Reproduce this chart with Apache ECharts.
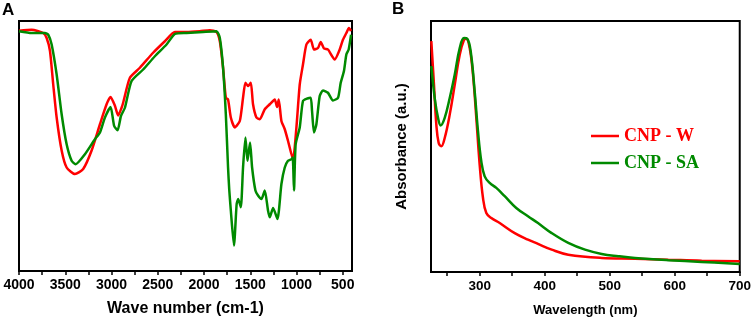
<!DOCTYPE html>
<html>
<head>
<meta charset="utf-8">
<script src="https://cdn.jsdelivr.net/npm/echarts@6.0.0/dist/echarts.min.js"></script>
<style>
  html, body { margin: 0; padding: 0; background: #fff; }
  #main { width: 754px; height: 322px; }
</style>
</head>
<body>
<div id="main"></div>
<script>
// --- A: FTIR (transmittance, arbitrary units) ---
const ftirWaveW = [4000, 3863, 3738, 3701, 3665, 3630, 3593, 3539, 3485, 3395, 3306, 3215, 3125, 3053, 3010, 2963, 2928, 2891, 2874, 2801, 2693, 2550, 2423, 2315, 2189, 2045, 1937, 1865, 1829, 1794, 1764, 1740, 1710, 1667, 1613, 1578, 1552, 1524, 1494, 1470, 1433, 1397, 1343, 1289, 1235, 1210, 1192, 1163, 1127, 1092, 1038, 1001, 965, 930, 893, 846, 811, 768, 738, 703, 660, 587, 533, 498, 461, 433, 410];
const ftirCnpW = [96.1, 96.5, 95.2, 93.2, 88.0, 74.6, 61.4, 48.2, 41.4, 38.8, 40.8, 48.2, 58.7, 66.7, 69.6, 66.1, 62.2, 65.3, 67.3, 77.3, 81.3, 87.3, 91.9, 95.6, 95.6, 95.9, 96.3, 95.6, 91.9, 81.3, 69.3, 68.6, 61.4, 57.4, 60.0, 69.3, 75.3, 74.0, 75.3, 66.7, 61.4, 60.7, 64.7, 66.7, 68.6, 65.6, 68.6, 60.0, 56.7, 52.1, 44.7, 57.4, 74.6, 82.6, 90.6, 92.5, 88.6, 89.2, 91.6, 89.0, 88.6, 84.6, 88.6, 92.5, 95.2, 97.2, 96.0];

const ftirWaveSA = [4000, 3863, 3719, 3684, 3647, 3593, 3539, 3485, 3431, 3388, 3287, 3179, 3125, 3071, 3010, 2971, 2934, 2898, 2855, 2783, 2658, 2531, 2405, 2315, 2189, 2010, 1865, 1829, 1794, 1764, 1740, 1727, 1710, 1676, 1647, 1630, 1602, 1578, 1552, 1530, 1502, 1480, 1444, 1416, 1379, 1343, 1308, 1289, 1253, 1206, 1163, 1127, 1092, 1055, 1041, 1027, 1009, 965, 930, 882, 846, 832, 811, 785, 749, 714, 660, 606, 551, 522, 487, 461, 436, 410];
const ftirCnpSA = [95.9, 95.2, 95.2, 94.5, 90.6, 78.6, 62.7, 50.7, 44.1, 42.7, 46.7, 52.7, 55.4, 61.4, 65.6, 58.0, 56.3, 62.0, 65.3, 76.0, 80.6, 85.9, 90.6, 94.8, 95.2, 95.6, 95.9, 93.2, 81.3, 62.7, 41.4, 32.5, 24.2, 10.2, 26.8, 28.8, 25.5, 41.4, 53.4, 44.1, 51.4, 41.4, 32.2, 30.2, 28.8, 32.2, 24.2, 21.5, 25.2, 20.8, 34.8, 41.4, 44.1, 44.7, 45.4, 32.2, 50.7, 57.4, 68.0, 69.0, 69.3, 64.0, 55.4, 58.7, 70.0, 72.2, 71.3, 68.2, 69.3, 75.3, 80.0, 86.6, 88.6, 94.5];

const ftirLabels = [4000, 3500, 3000, 2500, 2000, 1500, 1000, 500];
const ftirTicks = [4000, 3750, 3500, 3250, 3000, 2750, 2500, 2250, 2000, 1750, 1500, 1250, 1000, 750, 500];

// --- B: UV-Vis (absorbance, arbitrary units) ---
const uvWaveW = [225.5, 229.6, 233.2, 236.8, 240.8, 246.1, 253.8, 261.5, 269.2, 275.8, 279.3, 284.5, 289.6, 294.7, 299.9, 305, 310.1, 317.8, 330.7, 353.8, 374.2, 389.6, 410.7, 436.2, 487.6, 538.8, 590.1, 641.5, 700];
const uvCnpW = [92.0, 74.6, 58.7, 51.4, 50.1, 53.4, 62.7, 74.6, 86.6, 92.5, 92.9, 89.2, 78.6, 61.4, 42.7, 29.5, 23.5, 21.5, 19.5, 15.5, 12.9, 11.2, 8.9, 6.9, 5.6, 5.3, 4.9, 4.5, 4.3];

const uvWaveSA = [225.5, 230.7, 235.8, 239.9, 246.1, 253.8, 261.5, 269.2, 275.8, 280.8, 286.1, 292.2, 297.3, 302.4, 307.6, 315.3, 325.5, 338.4, 356.2, 374.2, 389.6, 410.7, 436.2, 461.9, 487.6, 513.2, 538.8, 590.1, 641.5, 700];
const uvCnpSA = [82.0, 69.3, 61.4, 58.4, 61.4, 69.3, 78.6, 89.2, 93.2, 92.9, 87.9, 72.0, 56.1, 44.1, 38.1, 35.5, 33.5, 30.2, 25.5, 22.2, 19.5, 15.5, 11.6, 8.9, 7.2, 6.3, 5.6, 4.7, 4.0, 3.2];

const uvLabels = [300, 400, 500, 600, 700];
const uvTicks = [250, 300, 350, 400, 450, 500, 550, 600, 650, 700];

const RED = '#ff0000';
const GREEN = '#008a00';
const SANS = 'Liberation Sans, Arial, sans-serif';

function zip(xs, ys) {
  return xs.map((x, i) => [x, ys[i]]);
}

const chart = echarts.init(document.getElementById('main'), null, { renderer: 'canvas' });

const axisBase = {
  type: 'value',
  axisLine: { show: true, onZero: false, lineStyle: { color: '#000', width: 2 } },
  splitLine: { show: false },
  nameLocation: 'middle',
  nameTextStyle: { color: '#000', fontFamily: SANS, fontWeight: 'bold' }
};

const option = {
  animation: false,
  backgroundColor: '#fff',
  title: [
    { text: 'A', left: 2, top: 2, padding: 0, textStyle: { fontFamily: SANS, fontWeight: 'bold', fontSize: 17, color: '#000' } },
    { text: 'B', left: 392, top: 1, padding: 0, textStyle: { fontFamily: SANS, fontWeight: 'bold', fontSize: 17, color: '#000' } }
  ],
  grid: [
    { left: 19, top: 21, width: 333, height: 251, show: true, borderColor: '#000', borderWidth: 2 },
    { left: 431, top: 21, width: 309, height: 251, show: true, borderColor: '#000', borderWidth: 2 }
  ],
  xAxis: [
    Object.assign({}, axisBase, {
      gridIndex: 0,
      min: 400,
      max: 4000,
      inverse: true,
      name: 'Wave number (cm-1)',
      nameGap: 30,
      nameTextStyle: { color: '#000', fontFamily: SANS, fontWeight: 'bold', fontSize: 16 },
      axisTick: { show: true, customValues: ftirTicks, length: 4, lineStyle: { color: '#000', width: 1.5 } },
      axisLabel: {
        customValues: ftirLabels, margin: 7, color: '#000', fontFamily: SANS, fontWeight: 'bold', fontSize: 14,
        formatter: v => String(v)
      }
    }),
    Object.assign({}, axisBase, {
      gridIndex: 1,
      min: 225,
      max: 700,
      name: 'Wavelength (nm)',
      nameGap: 32,
      nameTextStyle: { color: '#000', fontFamily: SANS, fontWeight: 'bold', fontSize: 13 },
      axisTick: { show: true, customValues: uvTicks, length: 4, lineStyle: { color: '#000', width: 1.5 } },
      axisLabel: {
        customValues: uvLabels, margin: 7, color: '#000', fontFamily: SANS, fontWeight: 'bold', fontSize: 13.5,
        formatter: v => String(v)
      }
    })
  ],
  yAxis: [
    { type: 'value', gridIndex: 0, min: 0, max: 100, show: false },
    Object.assign({}, axisBase, {
      gridIndex: 1,
      min: 0,
      max: 100,
      name: 'Absorbance (a.u.)',
      nameRotate: 90,
      nameGap: 22,
      nameTextStyle: { color: '#000', fontFamily: SANS, fontWeight: 'bold', fontSize: 15 },
      axisTick: { show: false },
      axisLabel: { show: false }
    })
  ],
  legend: {
    orient: 'vertical',
    left: 586,
    top: 122,
    itemWidth: 28,
    itemHeight: 2.5,
    itemGap: 9,
    icon: 'rect',
    textStyle: { fontFamily: 'Liberation Serif, Times New Roman, serif', fontWeight: 'bold', fontSize: 18, padding: [0, 0, 0, 0] },
    data: [
      { name: 'CNP - W', textStyle: { color: RED } },
      { name: 'CNP - SA', textStyle: { color: GREEN } }
    ]
  },
  series: [
    {
      name: 'CNP - W', type: 'line', xAxisIndex: 0, yAxisIndex: 0,
      data: zip(ftirWaveW, ftirCnpW), showSymbol: false, smooth: 0.2,
      lineStyle: { color: RED, width: 2.5 }, itemStyle: { color: RED }
    },
    {
      name: 'CNP - SA', type: 'line', xAxisIndex: 0, yAxisIndex: 0,
      data: zip(ftirWaveSA, ftirCnpSA), showSymbol: false, smooth: 0.2,
      lineStyle: { color: GREEN, width: 2.5 }, itemStyle: { color: GREEN }
    },
    {
      name: 'CNP - W', type: 'line', xAxisIndex: 1, yAxisIndex: 1,
      data: zip(uvWaveW, uvCnpW), showSymbol: false, smooth: 0.4,
      lineStyle: { color: RED, width: 2.5 }, itemStyle: { color: RED }
    },
    {
      name: 'CNP - SA', type: 'line', xAxisIndex: 1, yAxisIndex: 1,
      data: zip(uvWaveSA, uvCnpSA), showSymbol: false, smooth: 0.4,
      lineStyle: { color: GREEN, width: 2.5 }, itemStyle: { color: GREEN }
    }
  ]
};

chart.setOption(option);
</script>
</body>
</html>
